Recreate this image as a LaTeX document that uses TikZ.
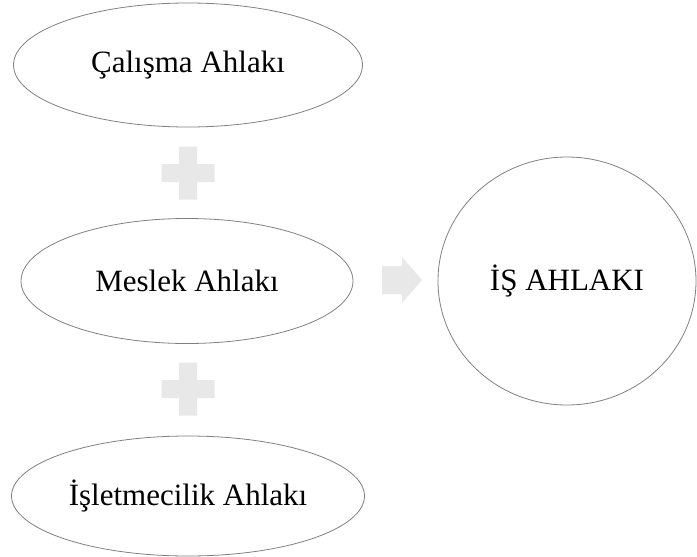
\documentclass[tikz,border=0pt]{standalone}
\usepackage{fontspec}
\setmainfont{Liberation Serif}
\usetikzlibrary{shapes.geometric}
\tikzset{
  oval/.style={ellipse, draw=black!50, line width=0.8pt, inner sep=0pt,
    font=\fontsize{31}{37}\selectfont},
  plusfill/.style={fill=black!9, draw=none},
  arrowfill/.style={fill=black!9, draw=none}
}
\begin{document}
\begin{tikzpicture}[x=1pt, y=-1pt]
  \def\P{26.5}
  \def\p{9}
  \useasboundingbox (0,0) rectangle (697,557);
  \node[oval, minimum width=349pt, minimum height=124pt] (calisma) at (188,65)
    {Çalışma Ahlakı};
  \node[oval, minimum width=332pt, minimum height=125pt] (meslek) at (187,281)
    {Meslek Ahlakı};
  \node[oval, minimum width=353pt, minimum height=120pt] (isletme) at (188,496)
    {İşletmecilik Ahlakı};
  \node[oval, minimum width=258pt, minimum height=248pt] (isahlaki) at (567,281)
    {İŞ AHLAKI};
  % plus signs
  \foreach \y in {173,389}
    \fill[plusfill, shift={(188,\y)}] (-\p,-\P) -- (\p,-\P) -- (\p,-\p) --
      (\P,-\p) -- (\P,\p) -- (\p,\p) -- (\p,\P) -- (-\p,\P) -- (-\p,\p) --
      (-\P,\p) -- (-\P,-\p) -- (-\p,-\p) -- cycle;
  % arrow
  \fill[arrowfill] (382,266) -- (402,266) -- (402,257) -- (422,280) --
    (402,303) -- (402,294) -- (382,294) -- cycle;
\end{tikzpicture}
\end{document}
